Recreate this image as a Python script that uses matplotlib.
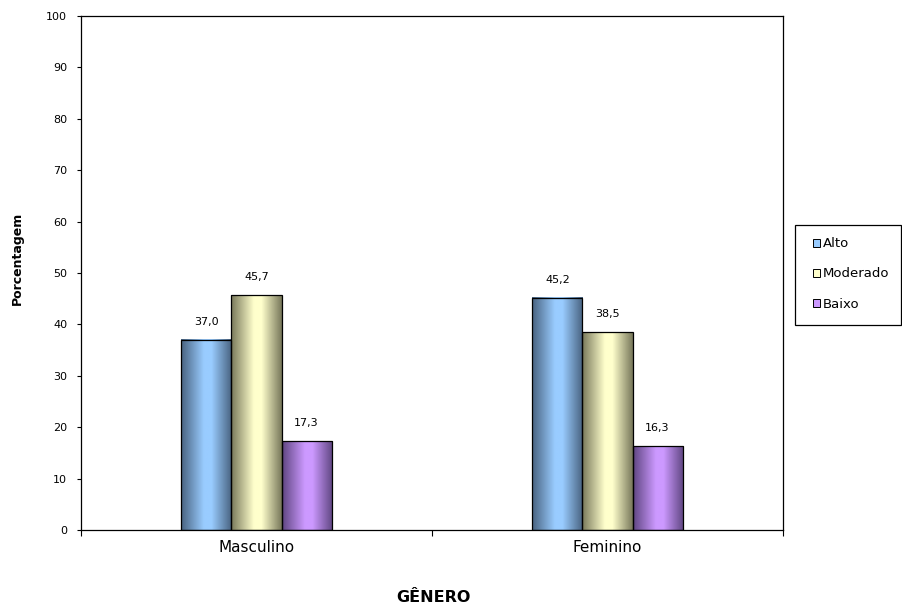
import matplotlib
matplotlib.use("Agg")
import matplotlib.pyplot as plt
import numpy as np
from matplotlib.colors import LinearSegmentedColormap
from matplotlib.patches import Patch, Rectangle

plt.rcParams['font.family'] = ['DejaVu Sans']

# dados
generos = ['Masculino', 'Feminino']
niveis = ['Alto', 'Moderado', 'Baixo']
alto = [37.0, 45.2]
moderado = [45.7, 38.5]
baixo = [17.3, 16.3]
series = [alto, moderado, baixo]

# cores (escura, clara) para o efeito cilíndrico
cores = [('#48627f', '#99ccff'), ('#77775a', '#ffffcc'), ('#5e4580', '#cc99ff')]

fig = plt.figure(figsize=(9.02, 6.07), dpi=100)
ax = fig.add_axes([81 / 902, 77 / 607, 702 / 902, 514 / 607])

x = np.arange(len(generos))
largura = 0.1425
grad = np.linspace(0, 1, 256).reshape(1, -1)

for i, (vals, (escura, clara)) in enumerate(zip(series, cores)):
    pos = x + (i - 1) * largura
    barras = ax.bar(pos, vals, largura, facecolor='none', edgecolor='black',
                    linewidth=0.9, zorder=3)
    cmap = LinearSegmentedColormap.from_list(
        'c%d' % i, [(0, escura), (0.45, clara), (0.6, clara), (1, escura)])
    for b, v in zip(barras, vals):
        ax.imshow(grad, cmap=cmap, aspect='auto', zorder=2,
                  extent=(b.get_x(), b.get_x() + b.get_width(), 0, b.get_height()))
        ax.text(b.get_x() + b.get_width() / 2, v + 3.5, f'{v:.1f}'.replace('.', ','),
                ha='center', va='center', fontsize=8)

ax.set_xlim(-0.5, 1.5)
ax.set_ylim(0, 100)
ax.set_yticks(range(0, 101, 10))
ax.tick_params(axis='y', labelsize=8, length=3, width=0.8, direction='out', pad=7)
ax.set_xticks([-0.5, 0.5, 1.5])
ax.set_xticklabels([])
ax.set_xticks(x, minor=True)
ax.set_xticklabels(generos, minor=True, fontsize=11)
ax.tick_params(axis='x', which='major', length=4, width=0.8, direction='out')
ax.tick_params(axis='x', which='minor', length=0, pad=7)
for s in ax.spines.values():
    s.set_linewidth(0.9)

fig.text(17.5 / 902, 1 - 258 / 607, 'Porcentagem', rotation=90, ha='center',
         va='center', fontsize=9, fontweight='bold')
fig.text(433 / 902, 1 - 598 / 607, 'GÊNERO', ha='center', va='center',
         fontsize=11.5, fontweight='bold')

# caixa da legenda
fig.patches.append(Rectangle((795 / 902, 1 - 325 / 607), 106 / 902, 100 / 607,
                             transform=fig.transFigure, facecolor='white',
                             edgecolor='black', linewidth=0.9))
handles = [Patch(facecolor=c[1], edgecolor='black', linewidth=0.7) for c in cores]
leg = fig.legend(handles, niveis, loc='upper left',
                 bbox_to_anchor=(804 / 902, 1 - 228 / 607),
                 fontsize=9.5, handlelength=0.55, handleheight=0.55,
                 handletextpad=0.15, labelspacing=1.3, borderpad=0.2,
                 frameon=False)

plt.savefig('out.png', dpi=100)
